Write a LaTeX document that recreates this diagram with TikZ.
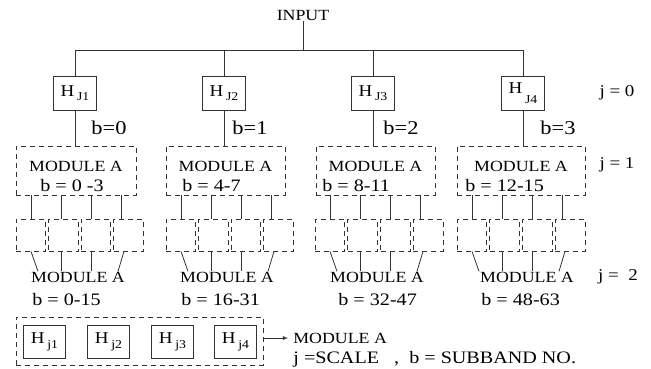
\documentclass[tikz,border=0pt]{standalone}
\usepackage{fontspec}
\setmainfont{Liberation Serif}[FakeStretch=1.15]
\newcommand{\hsub}[2]{H\,\raisebox{#2}{\fontsize{12}{12}\selectfont #1}}

\begin{document}
\begin{tikzpicture}[x=1pt,y=-1pt,line width=0.8pt,
  every node/.style={font=\fontsize{15.5}{17}\selectfont,inner sep=0pt},
  hbox/.style={draw=black!80,minimum width=43pt,minimum height=34pt,font=\fontsize{16.5}{18}\selectfont},
  dbox/.style={draw=black!80,dash pattern=on 5pt off 4pt},
  blab/.style={font=\fontsize{17.5}{19}\selectfont,anchor=west},
  stemlab/.style={font=\fontsize{19.5}{21}\selectfont,anchor=west},
  jlab/.style={font=\fontsize{16.5}{18}\selectfont}]
\useasboundingbox (0,0) rectangle (651,368);
\node (in) at (303,15) {INPUT};
\coordinate (busL) at (75,50);
\coordinate (busR) at (524,50);
\draw[black!80] (in) -- (in |- busL);
\draw[black!80] (busL) -- (busR);
\foreach \n/\xh/\sub/\dr/\bx/\bv/\lo/\ro/\bo/\bl in {1/75/J1/-4pt/91/0/16/136/0 -3/40,2/224/J2/-4pt/232/1/166/285/4-7/182,3/373/J3/-4pt/383/2/316/435/8-11/322,4/523/J4/-10pt/540/3/457/585/12-15/465}
{
\node[hbox] (h\n) at (\xh,93) {\hsub{\sub}{\dr}};
\draw[black!80] (h\n) -- (h\n |- busL);
\node[dbox,minimum width=\ro-\lo,minimum height=49pt] (m\n) at ({(\lo+\ro)/2},170.5) {};
\draw[black!80] (h\n) -- (h\n |- m\n.north);
\node[stemlab] at (\bx,128) {b=\bv};
\node at ({(\lo+\ro)/2},166) {MODULE A};
\node[blab] at (\bl,186) {b = \bo};
}
\foreach \n/\lo/\ro/\mx/\bx/\bt in {1/16/143/78/32/0-15,2/166/293/227/181/16-31,3/315/443/377/338/32-47,4/457/585/527/481/48-63}
{
\pgfmathsetmacro\w{(\ro-\lo-9)/4}
\node (t\n) at (\mx,277) {MODULE A};
\node[blab] at (\bx,300) {b = \bt};
\foreach \k/\dx/\off in {1/7pt/15,2/0pt/45,3/0pt/75,4/-6pt/108}
{
\node[dbox,minimum width=\w,minimum height=32pt] (s\n-\k) at ({\lo+(\k-1)*(\w+3)+\w/2},235) {};
\coordinate (u\n-\k) at ({\lo+15+(\k-1)*30},0);
\coordinate (v\n-\k) at (\lo+\off,0);
\draw[black!80] (u\n-\k |- m\n.south) -- (u\n-\k |- s\n-\k.north);
\draw[black!80] (v\n-\k |- s\n-\k.south) -- ([xshift=\dx]v\n-\k |- t\n.north);
}
}
\node[jlab] (j0) at (617,93) {j = 0};
\node[jlab] (j1) at (617,165) {j = 1};
\node[jlab] (j2) at (618,277) {j =\ \ 2};
\node[dbox,minimum width=247pt,minimum height=48pt] (leg) at (139.5,341) {};
\foreach \k/\xk in {1/44.5,2/108.5,3/172.5,4/235.5}
\node[hbox,minimum width=42pt,minimum height=33pt] (g\k) at (\xk,341.5) {\hsub{j\k}{-5pt}};
\node[anchor=west] (key) at (293,338) {MODULE A};
\draw[black!80,-latex] (leg.east |- key) -- ([xshift=-5pt]key.west);
\node[anchor=west,font=\fontsize{17.5}{19}\selectfont] (note) at (293,359) {j\ =SCALE\ \ \ ,\ \ b = SUBBAND NO.};
\end{tikzpicture}
\end{document}
